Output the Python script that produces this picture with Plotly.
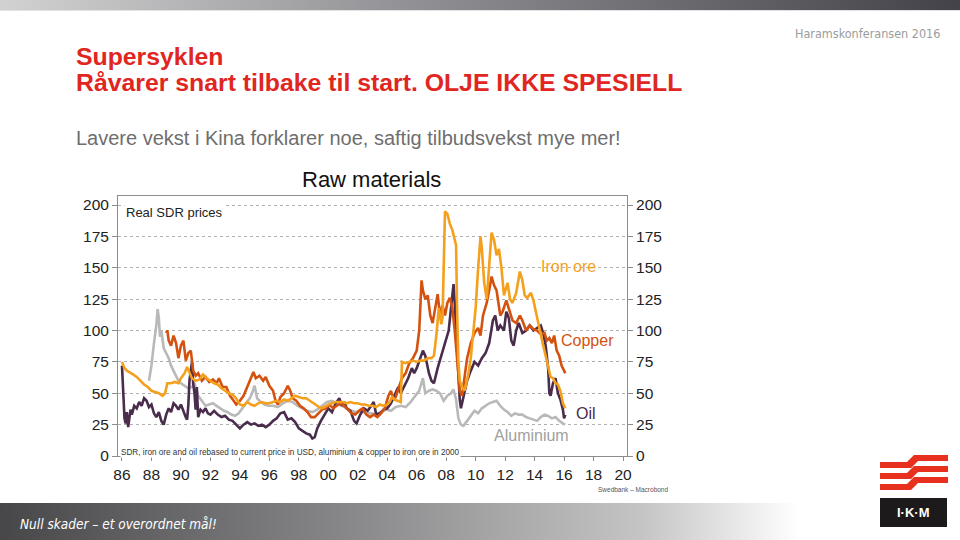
import base64
import plotly.graph_objects as go

# ---- data ----
oil_years = [1986.00, 1986.08, 1986.17, 1986.25, 1986.33, 1986.42, 1986.50, 1986.58, 1986.67, 1986.83,
             1987.00, 1987.17, 1987.33, 1987.50, 1987.67, 1987.83, 1988.00, 1988.17, 1988.33, 1988.50,
             1988.67, 1988.83, 1989.00, 1989.17, 1989.33, 1989.50, 1989.67, 1989.83, 1990.00, 1990.17,
             1990.33, 1990.42, 1990.50, 1990.58, 1990.67, 1990.75, 1990.83, 1990.92, 1991.00, 1991.08,
             1991.17, 1991.33, 1991.50, 1991.67, 1991.83, 1992.00, 1992.25, 1992.50, 1992.75, 1993.00,
             1993.25, 1993.50, 1993.75, 1994.00, 1994.25, 1994.50, 1994.75, 1995.00, 1995.25, 1995.50,
             1995.75, 1996.00, 1996.25, 1996.50, 1996.75, 1997.00, 1997.25, 1997.50, 1997.75, 1998.00,
             1998.25, 1998.50, 1998.75, 1998.92, 1999.08, 1999.25, 1999.50, 1999.75, 2000.00, 2000.25,
             2000.50, 2000.75, 2000.92, 2001.08, 2001.25, 2001.50, 2001.75, 2001.92, 2002.17, 2002.42,
             2002.67, 2002.92, 2003.08, 2003.25, 2003.50, 2003.75, 2004.00, 2004.25, 2004.50, 2004.75,
             2004.92, 2005.17, 2005.42, 2005.67, 2005.83, 2006.00, 2006.25, 2006.42, 2006.58, 2006.83,
             2007.00, 2007.17, 2007.42, 2007.67, 2007.92, 2008.17, 2008.33, 2008.50, 2008.58, 2008.75,
             2008.92, 2009.00, 2009.17, 2009.42, 2009.67, 2009.92, 2010.17, 2010.42, 2010.67, 2010.92,
             2011.17, 2011.33, 2011.50, 2011.67, 2011.92, 2012.08, 2012.25, 2012.42, 2012.58, 2012.75,
             2012.92, 2013.17, 2013.42, 2013.67, 2013.92, 2014.17, 2014.42, 2014.58, 2014.75, 2014.92,
             2015.00, 2015.08, 2015.25, 2015.42, 2015.58, 2015.75, 2015.92, 2016.00, 2016.08]
oil_vals = [72, 45, 30, 26, 35, 23, 30, 37, 33, 40,
            38, 43, 40, 46, 44, 39, 41, 34, 31, 35,
            28, 25, 33, 38, 35, 42, 40, 37, 41, 35,
            31, 29, 40, 60, 70, 75, 58, 50, 37, 55,
            31, 37, 35, 38, 34, 33, 36, 33, 31, 32,
            29, 28, 25, 22, 25, 27, 25, 26, 24, 25,
            23, 25, 28, 30, 34, 35, 29, 30, 27, 22,
            20, 18, 17, 14, 15, 22, 28, 33, 38, 35,
            42, 46, 40, 43, 38, 36, 28, 26, 33, 38,
            36, 40, 43, 33, 34, 37, 38, 42, 48, 55,
            50, 56, 62, 70, 66, 70, 78, 84, 80, 66,
            60, 58, 70, 80, 90, 100, 118, 137, 122, 80,
            45, 38, 48, 60, 68, 75, 72, 78, 82, 90,
            108, 112, 100, 104, 100, 115, 110, 92, 88, 100,
            106, 98, 100, 104, 100, 102, 104, 98, 88, 70,
            50, 48, 58, 62, 50, 45, 37, 30, 33]

copper_years = [1989.00, 1989.08, 1989.17, 1989.33, 1989.50, 1989.67, 1989.83, 1990.00, 1990.17, 1990.33,
                1990.50, 1990.67, 1990.83, 1991.00, 1991.17, 1991.42, 1991.67, 1991.92, 1992.17, 1992.42,
                1992.58, 1992.83, 1993.08, 1993.33, 1993.58, 1993.75, 1994.00, 1994.25, 1994.50, 1994.75,
                1994.92, 1995.08, 1995.33, 1995.58, 1995.75, 1996.00, 1996.25, 1996.42, 1996.58, 1996.75,
                1997.00, 1997.25, 1997.42, 1997.58, 1997.83, 1998.08, 1998.33, 1998.58, 1998.83, 1999.08,
                1999.33, 1999.58, 1999.83, 2000.08, 2000.33, 2000.58, 2000.83, 2001.08, 2001.33, 2001.58,
                2001.83, 2002.08, 2002.33, 2002.58, 2002.83, 2003.08, 2003.33, 2003.58, 2003.83, 2004.08,
                2004.25, 2004.42, 2004.58, 2004.83, 2005.00, 2005.25, 2005.50, 2005.75, 2006.00, 2006.17,
                2006.33, 2006.42, 2006.58, 2006.75, 2006.92, 2007.08, 2007.25, 2007.42, 2007.58, 2007.75,
                2007.92, 2008.08, 2008.25, 2008.42, 2008.58, 2008.75, 2008.92, 2009.08, 2009.25, 2009.42,
                2009.67, 2009.92, 2010.17, 2010.33, 2010.50, 2010.75, 2010.92, 2011.08, 2011.25, 2011.42,
                2011.67, 2011.83, 2012.08, 2012.25, 2012.50, 2012.75, 2013.00, 2013.17, 2013.42, 2013.67,
                2013.92, 2014.17, 2014.42, 2014.67, 2014.83, 2015.00, 2015.17, 2015.33, 2015.50, 2015.67,
                2015.83, 2016.00, 2016.08]
copper_vals = [98, 100, 92, 88, 96, 90, 78, 88, 92, 76,
               82, 84, 68, 64, 66, 60, 63, 59, 61, 58,
               62, 55, 55, 48, 44, 41, 44, 48, 55, 63,
               67, 62, 64, 60, 63, 56, 52, 44, 41, 47,
               50, 56, 52, 46, 44, 40, 38, 35, 31, 31,
               34, 37, 38, 41, 38, 40, 42, 40, 37, 34,
               33, 36, 38, 33, 31, 33, 31, 34, 38, 48,
               52, 45, 47, 55, 62, 66, 74, 78, 84, 100,
               140, 132, 125, 128, 112, 106, 118, 129, 112, 120,
               112, 122, 126, 118, 100, 72, 52, 48, 65, 78,
               90, 98, 102, 96, 112, 122, 132, 143, 136, 132,
               112, 115, 124, 118, 108, 106, 112, 108, 100, 104,
               101, 100, 97, 98, 92, 94, 90, 96, 84, 80,
               72, 68, 66]

iron_years = [1986.00, 1986.17, 1986.33, 1986.50, 1986.75, 1987.00, 1987.25, 1987.50, 1987.75, 1988.00,
              1988.25, 1988.50, 1988.75, 1988.92, 1989.08, 1989.33, 1989.58, 1989.83, 1990.00, 1990.25,
              1990.42, 1990.58, 1990.75, 1991.00, 1991.25, 1991.50, 1991.75, 1992.00, 1992.25, 1992.50,
              1992.75, 1993.00, 1993.25, 1993.50, 1993.75, 1994.00, 1994.25, 1994.50, 1994.75, 1995.00,
              1995.25, 1995.50, 1995.75, 1996.00, 1996.25, 1996.50, 1996.75, 1997.00, 1997.25, 1997.50,
              1997.75, 1998.00, 1998.25, 1998.50, 1998.75, 1999.00, 1999.25, 1999.50, 1999.75, 2000.00,
              2000.25, 2000.50, 2000.75, 2001.00, 2001.25, 2001.50, 2001.75, 2002.00, 2002.25, 2002.50,
              2002.75, 2003.00, 2003.25, 2003.50, 2003.75, 2004.00, 2004.17, 2004.33, 2004.50, 2004.75,
              2004.92, 2005.00, 2005.25, 2005.50, 2005.75, 2006.00, 2006.25, 2006.50, 2006.75, 2007.00,
              2007.17, 2007.33, 2007.50, 2007.67, 2007.75, 2007.83, 2007.92, 2008.08, 2008.25, 2008.42,
              2008.58, 2008.67, 2008.75, 2008.83, 2008.92, 2009.08, 2009.25, 2009.50, 2009.67, 2009.83,
              2010.00, 2010.17, 2010.33, 2010.42, 2010.58, 2010.75, 2010.92, 2011.08, 2011.25, 2011.42,
              2011.58, 2011.75, 2011.92, 2012.00, 2012.17, 2012.33, 2012.50, 2012.75, 2013.00, 2013.17,
              2013.33, 2013.50, 2013.75, 2013.92, 2014.08, 2014.25, 2014.42, 2014.58, 2014.75, 2014.92,
              2015.08, 2015.25, 2015.42, 2015.58, 2015.75, 2015.92, 2016.08]
iron_vals = [75, 70, 68, 67, 65, 63, 60, 57, 55, 52,
             51, 50, 48, 50, 58, 58, 59, 58, 62, 66,
             71, 66, 62, 60, 61, 65, 62, 60, 58, 57,
             54, 52, 50, 49, 46, 41, 40, 43, 41, 40,
             42, 43, 42, 42, 43, 44, 43, 45, 44, 46,
             48, 47, 46, 46, 44, 42, 40, 38, 39, 41,
             42, 43, 43, 43, 42, 43, 42, 42, 41, 41,
             40, 40, 39, 41, 40, 41, 43, 47, 45, 44,
             43, 75, 74, 75, 76, 75, 76, 76, 78, 78,
             80, 96, 118, 105, 110, 150, 195, 193, 185, 180,
             172, 168, 110, 75, 60, 55, 52, 65, 78, 100,
             118, 150, 175, 165, 138, 125, 150, 178, 172, 160,
             165, 150, 128, 132, 138, 125, 122, 130, 147, 140,
             128, 126, 130, 124, 115, 105, 96, 88, 80, 70,
             63, 62, 58, 57, 52, 42, 38]

alu_years = [1987.83, 1988.00, 1988.17, 1988.33, 1988.42, 1988.50, 1988.58, 1988.67, 1988.83, 1989.00,
             1989.17, 1989.33, 1989.50, 1989.67, 1989.83, 1990.00, 1990.25, 1990.50, 1990.75, 1990.92,
             1991.17, 1991.42, 1991.67, 1991.92, 1992.17, 1992.42, 1992.67, 1992.92, 1993.17, 1993.42,
             1993.67, 1993.92, 1994.17, 1994.42, 1994.67, 1994.83, 1995.00, 1995.17, 1995.42, 1995.67,
             1995.92, 1996.25, 1996.58, 1996.92, 1997.25, 1997.58, 1997.92, 1998.25, 1998.58, 1998.92,
             1999.25, 1999.58, 1999.92, 2000.25, 2000.58, 2000.92, 2001.25, 2001.58, 2001.92, 2002.25,
             2002.58, 2002.92, 2003.25, 2003.58, 2003.92, 2004.25, 2004.58, 2004.92, 2005.25, 2005.58,
             2005.92, 2006.17, 2006.42, 2006.58, 2006.83, 2007.08, 2007.33, 2007.58, 2007.83, 2008.08,
             2008.33, 2008.50, 2008.67, 2008.83, 2009.00, 2009.17, 2009.42, 2009.67, 2009.92, 2010.17,
             2010.42, 2010.67, 2010.92, 2011.17, 2011.42, 2011.67, 2011.92, 2012.17, 2012.42, 2012.67,
             2012.92, 2013.17, 2013.42, 2013.67, 2013.92, 2014.17, 2014.42, 2014.67, 2014.92, 2015.17,
             2015.42, 2015.67, 2015.92, 2016.08]
alu_vals = [60, 72, 90, 104, 117, 110, 95, 100, 86, 82,
            78, 72, 68, 63, 60, 58, 56, 54, 55, 58,
            48, 44, 40, 41, 42, 40, 38, 36, 35, 33,
            32, 34, 38, 42, 46, 50, 56, 46, 43, 41,
            40, 40, 39, 42, 44, 43, 40, 38, 36, 35,
            37, 40, 43, 44, 42, 40, 38, 36, 35, 36,
            34, 34, 33, 35, 37, 36, 39, 40, 39, 43,
            48, 52, 62, 50, 52, 53, 52, 50, 44, 48,
            50, 53, 45, 30, 25, 24, 28, 32, 36, 34,
            38, 40, 42, 43, 44, 40, 37, 35, 32, 34,
            33, 33, 31, 30, 29, 28, 31, 33, 32, 30,
            31, 28, 26, 25]

tick_years = list(range(1986, 2021, 2))
tick_text = [str(y)[2:] for y in tick_years]

OIL = "#4a2c4c"
COPPER = "#d4520f"
IRON = "#f5a01c"
ALU = "#b9b9b9"

# plot area in page pixels
L, R, T, B = 118, 627, 196, 456
W, H = R - L, B - T


def px(x):
    return (x - L) / W


def py(y):
    return (B - y) / H


def svg_uri(svg):
    return "data:image/svg+xml;base64," + base64.b64encode(svg.encode()).decode()


fig = go.Figure()
for name, xs, ys, col in [("Aluminium", alu_years, alu_vals, ALU),
                          ("Oil", oil_years, oil_vals, OIL),
                          ("Copper", copper_years, copper_vals, COPPER),
                          ("Iron ore", iron_years, iron_vals, IRON)]:
    fig.add_trace(go.Scatter(x=xs, y=ys, mode="lines", name=name,
                             line=dict(color=col, width=2.6), hoverinfo="skip"))

# invisible trace so the right-hand axis is drawn
fig.add_trace(go.Scatter(x=[1986], y=[0], yaxis="y2", mode="lines",
                         line=dict(width=0), showlegend=False, hoverinfo="skip"))

yr = [0, 207.2]
axis_font = dict(family="Liberation Sans, Arial", size=15.5, color="#222")
fig.update_layout(
    width=960, height=540,
    margin=dict(l=L, r=960 - R, t=T, b=540 - B),
    paper_bgcolor="white", plot_bgcolor="white",
    showlegend=False,
    xaxis=dict(range=[1985.73, 2020.27], tickvals=tick_years, ticktext=tick_text,
               showgrid=False, zeroline=False, showline=True, mirror=True,
               linecolor="#8c8c8c", linewidth=1, ticks="outside", ticklen=4,
               tickcolor="#8c8c8c", tickfont=axis_font),
    yaxis=dict(range=yr, tickvals=list(range(0, 201, 25)), showgrid=True,
               gridcolor="#b0b0b0", griddash="dot", gridwidth=1, zeroline=False,
               showline=True, mirror=True, linecolor="#8c8c8c", linewidth=1,
               ticks="outside", ticklen=5, tickcolor="#8c8c8c", tickfont=axis_font),
    yaxis2=dict(range=yr, tickvals=list(range(0, 201, 25)), overlaying="y", side="right",
                showgrid=False, zeroline=False, ticks="outside", ticklen=5,
                tickcolor="#8c8c8c", tickfont=axis_font),
)

# series labels and chart texts
lab = dict(family="Liberation Sans, Arial", size=16)
fig.add_annotation(x=2016.3, y=151, text="Iron ore", showarrow=False, font=dict(lab, color=IRON))
fig.add_annotation(x=2017.6, y=92, text="Copper", showarrow=False, font=dict(lab, color=COPPER))
fig.add_annotation(x=2017.5, y=34, text="Oil", showarrow=False, font=dict(lab, color=OIL))
fig.add_annotation(x=2013.8, y=16, text="Aluminium", showarrow=False, font=dict(lab, color="#a0a0a0"))

fig.add_annotation(xref="paper", yref="paper", x=px(124), y=py(212), xanchor="left", yanchor="middle",
                   text="Real SDR prices", showarrow=False, bgcolor="white",
                   font=dict(family="Liberation Sans, Arial", size=13, color="#222"))
fig.add_annotation(xref="paper", yref="paper", x=px(120), y=py(452), xanchor="left", yanchor="middle",
                   text="SDR, iron ore and oil rebased to current price in USD, aluminium & copper to iron ore in 2000",
                   showarrow=False, bgcolor="white", borderpad=0,
                   font=dict(family="Liberation Sans, Arial", size=8.2, color="#333"))
fig.add_annotation(xref="paper", yref="paper", x=px(371), y=py(179), xanchor="center", yanchor="middle",
                   text="Raw materials", showarrow=False,
                   font=dict(family="Liberation Sans, Arial", size=22, color="#111"))
fig.add_annotation(xref="paper", yref="paper", x=px(670), y=py(489), xanchor="right", yanchor="middle",
                   text="Swedbank – Macrobond", showarrow=False,
                   font=dict(family="Liberation Sans, Arial", size=6.5, color="#555"))

# slide texts
fig.add_annotation(xref="paper", yref="paper", x=px(942), y=py(33), xanchor="right", yanchor="middle",
                   text="Haramskonferansen 2016", showarrow=False,
                   font=dict(family="DejaVu Sans Condensed, Liberation Sans", size=12.5, color="#9c9c9c"))
title_font = dict(family="Liberation Sans, Arial", size=24.8, color="#e0261f")
fig.add_annotation(xref="paper", yref="paper", x=px(74), y=py(57), xanchor="left", yanchor="middle",
                   text="<b>Supersyklen</b>", showarrow=False, font=title_font)
fig.add_annotation(xref="paper", yref="paper", x=px(74), y=py(82), xanchor="left", yanchor="middle",
                   text="<b>Råvarer snart tilbake til start. OLJE IKKE SPESIELL</b>",
                   showarrow=False, font=title_font)
fig.add_annotation(xref="paper", yref="paper", x=px(74), y=py(138), xanchor="left", yanchor="middle",
                   text="Lavere vekst i Kina forklarer noe, saftig tilbudsvekst mye mer!",
                   showarrow=False,
                   font=dict(family="Liberation Sans, Arial", size=20, color="#6e6e6e"))
fig.add_annotation(xref="paper", yref="paper", x=px(18), y=py(524), xanchor="left", yanchor="middle",
                   text="<i>Null skader – et overordnet mål!</i>", showarrow=False,
                   font=dict(family="DejaVu Sans Condensed, Liberation Sans", size=13.5, color="white"))

# gradient bars (top and bottom of the slide)
top_svg = ('<svg xmlns="http://www.w3.org/2000/svg" width="960" height="10" preserveAspectRatio="none">'
           '<defs><linearGradient id="g"><stop offset="0" stop-color="#d2d2d2"/>'
           '<stop offset="0.5" stop-color="#86868b"/><stop offset="1" stop-color="#434248"/>'
           '</linearGradient></defs><rect width="960" height="10" fill="url(#g)"/></svg>')
bot_svg = ('<svg xmlns="http://www.w3.org/2000/svg" width="800" height="37" preserveAspectRatio="none">'
           '<defs><linearGradient id="g"><stop offset="0" stop-color="#47474a"/>'
           '<stop offset="0.45" stop-color="#8a8a8c"/><stop offset="0.8" stop-color="#c4c4c4"/>'
           '<stop offset="1" stop-color="#ffffff"/>'
           '</linearGradient></defs><rect width="800" height="37" fill="url(#g)"/></svg>')
fig.add_layout_image(source=svg_uri(top_svg), xref="paper", yref="paper", x=px(0), y=py(0),
                     sizex=960 / W, sizey=10 / H, sizing="stretch", xanchor="left", yanchor="top",
                     layer="below")
fig.add_layout_image(source=svg_uri(bot_svg), xref="paper", yref="paper", x=px(0), y=py(503),
                     sizex=800 / W, sizey=37 / H, sizing="stretch", xanchor="left", yanchor="top",
                     layer="below")
fig.add_shape(type="line", xref="paper", yref="paper", x0=px(0), x1=px(960), y0=py(10.5), y1=py(10.5),
              line=dict(color="#e2e2e2", width=1))

# IKM logo: three red stepped stripes and a black box
for k in range(3):
    d = 11 * k
    pts = [(880, 462 + d), (907, 462 + d), (914, 455 + d), (948, 455 + d),
           (948, 461 + d), (918, 461 + d), (911, 468 + d), (880, 468 + d)]
    path = "M " + " L ".join(f"{px(a):.5f},{py(b):.5f}" for a, b in pts) + " Z"
    fig.add_shape(type="path", xref="paper", yref="paper", path=path,
                  fillcolor="#e8301f", line=dict(width=0))
fig.add_shape(type="rect", xref="paper", yref="paper", x0=px(880), x1=px(947), y0=py(498), y1=py(527),
              fillcolor="#1c1a1a", line=dict(width=0))
fig.add_annotation(xref="paper", yref="paper", x=px(913.5), y=py(512.5), xanchor="center",
                   yanchor="middle", text="<b>I·K·M</b>", showarrow=False,
                   font=dict(family="Liberation Sans, Arial", size=13, color="white"))

# drop the default page margin so the figure sits at the window's top-left corner
fig.write_html("out.html", config={"displayModeBar": False},
               post_script="document.body.style.margin='0';document.body.style.overflow='hidden';")
